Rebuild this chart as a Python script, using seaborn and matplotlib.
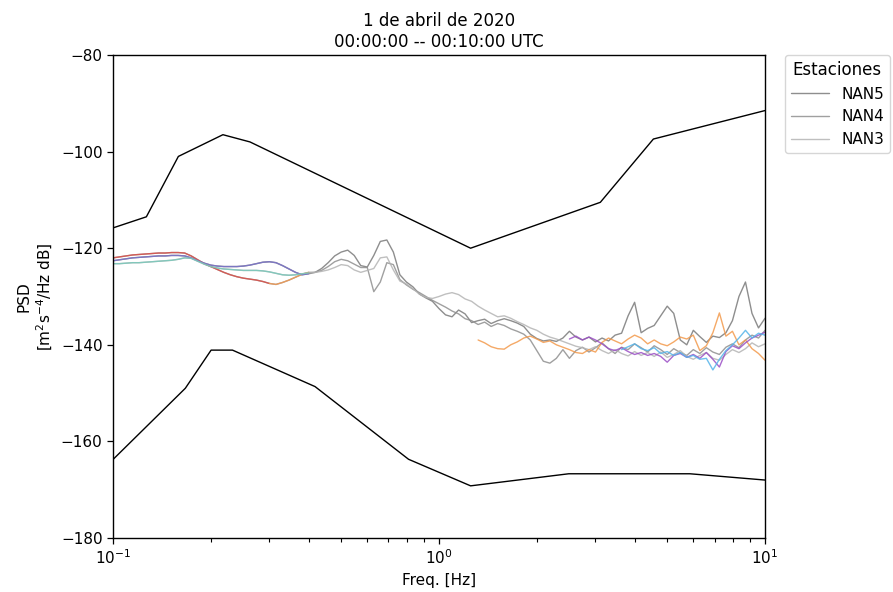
import numpy as np
import pandas as pd
import matplotlib
matplotlib.use("Agg")
import matplotlib.pyplot as plt
from matplotlib.ticker import LogLocator, NullFormatter
import seaborn as sns

# Frequency sampling of the station spectra (log-spaced, 0.02 decade step)
freqs = 10 ** np.linspace(-1, 1, 101)

# Station PSD estimates [dB]
nan5_db = [-122.6, -122.4, -122.2, -122.0, -121.9, -121.8, -121.7, -121.6, -121.6, -121.5,
           -121.5, -121.6, -122.0, -122.6, -123.1, -123.5, -123.7, -123.8, -123.8, -123.8,
           -123.7, -123.5, -123.2, -122.9, -122.8, -123.0, -123.6, -124.3, -125.0, -125.5,
           -125.3, -125.0, -124.2, -123.0, -121.6, -120.8, -120.4, -121.5, -123.6, -123.9,
           -121.5, -118.6, -118.3, -120.8, -125.5, -127.0, -128.0, -129.5, -130.3, -131.0,
           -132.5, -133.8, -134.2, -132.8, -133.6, -135.4, -135.0, -134.7, -135.6, -135.0,
           -134.6, -135.0, -135.5, -136.2, -137.8, -138.7, -139.2, -139.0, -139.3, -138.6,
           -137.2, -138.4, -139.0, -138.4, -139.4, -138.6, -139.2, -138.0, -137.6, -134.0,
           -131.2, -137.5, -136.6, -136.0, -134.0, -132.0, -133.5, -139.0, -140.0, -137.0,
           -138.3, -139.5, -138.2, -138.5, -137.5, -135.0, -130.0, -127.0, -133.5, -136.5,
           -134.5]
nan4_db = [-122.0, -121.8, -121.6, -121.4, -121.3, -121.2, -121.1, -121.0, -121.0, -120.9,
           -120.9, -121.0, -121.6, -122.4, -123.2, -123.8, -124.4, -125.0, -125.5, -125.9,
           -126.2, -126.4, -126.6, -126.9, -127.3, -127.5, -127.1, -126.6, -126.0, -125.4,
           -125.0, -125.0, -124.6, -123.8, -122.8, -122.3, -122.6, -123.3, -124.0, -124.0,
           -129.0, -127.0, -123.0, -123.4, -126.5, -127.6, -128.5, -129.2, -130.0, -130.8,
           -131.5, -132.2, -133.0, -133.6, -134.6, -135.0, -135.8, -135.3, -136.2, -135.6,
           -136.0, -136.7, -137.2, -137.8, -139.0, -141.2, -143.4, -143.8, -142.8, -141.0,
           -142.8, -141.2, -140.5, -141.5, -140.6, -139.6, -140.8, -141.8, -140.5, -141.0,
           -139.8, -140.6, -141.5, -140.2, -141.0, -142.0, -140.8, -141.6, -142.2, -141.0,
           -141.8, -140.6, -141.5, -142.0, -140.5, -139.8, -140.6, -139.0, -138.0, -138.6,
           -137.0]
nan3_db = [-123.2, -123.2, -123.1, -123.0, -123.0, -122.9, -122.8, -122.7, -122.6, -122.5,
           -122.3, -122.0, -122.1, -122.7, -123.3, -123.8, -124.1, -124.3, -124.4, -124.5,
           -124.6, -124.6, -124.6, -124.7, -124.9, -125.2, -125.5, -125.6, -125.5, -125.3,
           -125.1, -125.0, -124.8, -124.5, -124.0, -123.4, -123.6, -124.5, -125.0, -124.6,
           -124.2, -122.0, -121.8, -124.5, -126.8, -127.4, -128.4, -129.5, -130.2, -130.4,
           -130.0, -129.5, -129.2, -129.6, -130.5, -131.0, -132.0, -132.8, -133.5, -134.2,
           -134.0, -134.5, -135.2, -135.8, -136.5, -137.0, -137.8, -138.4, -138.8, -139.3,
           -139.8, -140.3, -140.6, -141.0, -140.4, -141.2, -141.8, -141.0, -141.8, -142.3,
           -141.4, -142.2, -141.6, -142.4, -141.5, -142.6, -142.0, -141.2, -142.4, -143.0,
           -142.2, -141.6, -142.8, -143.2, -142.0, -141.0, -141.6, -140.8, -139.6, -140.4,
           -139.8]

# Single-component spectra in the upper band (start index into freqs)
comp_orange_start = 56
comp_orange_db = [-139.0, -139.6, -140.4, -140.8, -140.9, -140.0, -139.4, -138.6, -138.2, -138.8,
                  -139.5, -139.2, -140.0, -140.5, -141.0, -141.6, -141.8, -141.0, -141.5, -139.5,
                  -138.6, -139.2, -139.8, -138.8, -138.0, -138.6, -139.8, -139.0, -139.8, -140.2,
                  -139.4, -138.4, -138.8, -138.0, -141.2, -140.2, -137.5, -133.4, -138.2, -137.2,
                  -140.0, -139.0, -140.8, -141.8, -143.2]
comp_purple_start = 70
comp_purple_db = [-138.8, -138.2, -139.0, -138.4, -139.0, -139.8, -140.8, -141.2, -140.6, -141.4,
                  -142.0, -141.6, -142.2, -141.8, -142.4, -143.6, -142.2, -141.8, -142.6, -142.0,
                  -142.8, -141.6, -143.0, -144.6, -141.4, -140.2, -140.8, -139.6, -138.6, -138.0,
                  -137.4]
comp_cyan_start = 78
comp_cyan_db = [-141.0, -140.4, -139.8, -140.8, -141.2, -140.6, -141.8, -141.4, -142.2, -141.6,
                -142.6, -142.2, -143.0, -142.8, -145.2, -143.0, -141.2, -140.0, -138.6, -137.0,
                -138.6, -137.6, -138.0]

# Peterson (1993) noise models, breakpoints
nhnm_freq = [0.1, 0.1266, 0.1587, 0.2174, 0.2632, 1.25, 3.125, 4.545, 10.0]
nhnm_db = [-115.8, -113.5, -101.0, -96.5, -98.0, -120.0, -110.5, -97.4, -91.5]
nlnm_freq = [0.1, 0.1667, 0.2, 0.2326, 0.4167, 0.8065, 1.25, 2.5, 5.882, 10.0]
nlnm_db = [-163.75, -149.0, -141.1, -141.1, -148.65, -163.7, -169.2, -166.7, -166.7, -168.0]

stations = ["NAN5", "NAN4", "NAN3"]
station_db = [nan5_db, nan4_db, nan3_db]
station_gray = ["#7a7a7a", "#8f8f8f", "#b4b4b4"]

sns.set_style("ticks")
plt.rcParams["font.family"] = ["DejaVu Sans"]
plt.rcParams["text.color"] = "black"
plt.rcParams["axes.labelcolor"] = "black"
plt.rcParams["xtick.color"] = "black"
plt.rcParams["ytick.color"] = "black"
plt.rcParams["xtick.minor.visible"] = True
plt.rcParams["xtick.minor.size"] = 3.0
plt.rcParams["xtick.minor.width"] = 0.8
plt.rcParams["ytick.minor.visible"] = False

fig = plt.figure(figsize=(8.93, 5.92), dpi=100)
ax = fig.add_axes([0.1265, 0.0912, 0.7302, 0.8159])

# Noise models
sns.lineplot(x=nhnm_freq, y=nhnm_db, ax=ax, color="black", lw=1.0,
             estimator=None, sort=False)
sns.lineplot(x=nlnm_freq, y=nlnm_db, ax=ax, color="black", lw=1.0,
             estimator=None, sort=False)

# Station spectra
handles = []
for name, vals, col in zip(stations, station_db, station_gray):
    sns.lineplot(x=freqs, y=vals, ax=ax, color=col, lw=1.0, alpha=0.85,
                 estimator=None, sort=False)
    handles.append(ax.lines[-1])

# Lower band, coloured by component
low_segments = [
    (nan4_db, 0, 25, "#d9544d"),
    (nan4_db, 24, 31, "#ef9a55"),
    (nan5_db, 0, 31, "#7b74c9"),
    (nan3_db, 0, 31, "#7cc8bb"),
]
for vals, i0, i1, col in low_segments:
    sns.lineplot(x=freqs[i0:i1], y=vals[i0:i1], ax=ax, color=col, lw=1.0,
                 alpha=0.9, estimator=None, sort=False)

# Upper band component spectra
for start, vals, col in [(comp_orange_start, comp_orange_db, "#f39a4c"),
                         (comp_purple_start, comp_purple_db, "#9b4fc6"),
                         (comp_cyan_start, comp_cyan_db, "#55b4ea")]:
    sns.lineplot(x=freqs[start:start + len(vals)], y=vals, ax=ax, color=col,
                 lw=1.0, alpha=0.85, estimator=None, sort=False)

ax.set_xscale("log")
ax.set_xlim(0.1, 10)
ax.set_ylim(-180, -80)
ax.set_yticks([-180, -160, -140, -120, -100, -80])
ax.xaxis.set_minor_locator(LogLocator(base=10, subs=np.arange(2, 10), numticks=20))
ax.xaxis.set_minor_formatter(NullFormatter())
ax.set_xlabel("Freq. [Hz]", fontsize=11)
ax.set_ylabel("PSD\n[m$^2$s$^{-4}$/Hz dB]", fontsize=11)
ax.set_title("1 de abril de 2020\n00:00:00 -- 00:10:00 UTC", fontsize=12)
ax.tick_params(which="major", labelsize=11, length=4, width=0.9, direction="out")
ax.xaxis.set_tick_params(which="minor", length=3, width=0.8, direction="out",
                         bottom=True)
for s in ax.spines.values():
    s.set_visible(True)
    s.set_color("black")
    s.set_linewidth(1.0)

leg = ax.legend(handles, stations, title="Estaciones", loc="upper left",
                bbox_to_anchor=(1.03, 1.0), fontsize=11, title_fontsize=12,
                handlelength=2.5, frameon=True, borderaxespad=0.0)

fig.savefig("out.png", dpi=100)
